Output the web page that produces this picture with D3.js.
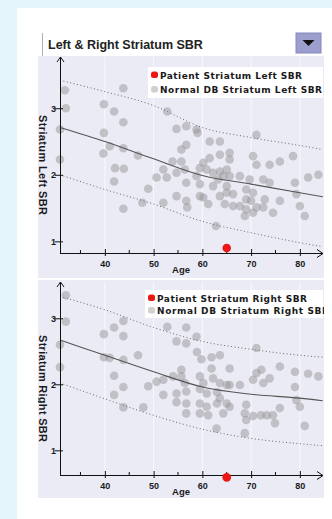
<!DOCTYPE html>
<html>
<head>
<meta charset="utf-8">
<script src="https://cdn.jsdelivr.net/npm/d3@7"></script>
<style>
  body { margin: 0; background: #e4f5fb; }
  svg { display: block; }
  text { font-family: "Liberation Sans", Arial, sans-serif; fill: #1a1a1a; }
</style>
</head>
<body>
<div id="chart"></div>
<script>
// normal database, left striatum
const leftAges = [31.8, 32, 30.8, 30.8, 43.8, 39.8, 41.9, 43.8, 39.8, 41, 43.8, 39.7, 46.8, 42.1, 43.9, 41.9, 43.8, 48.9, 47.7,
  52.8, 54.7, 56.7, 58.8, 59, 55.7, 56.7, 53.9, 55.7, 52, 54.7, 56.4, 50.6, 52.7, 56.7, 58.8, 54.7, 56.7, 56.9, 52,
  59.5, 60.2, 61.5, 63.6, 63.6, 65.6, 65.6, 61.5, 60.9, 62.2, 63.6, 65, 64.3, 65.6, 63.2, 59.5, 62.2, 65, 67.7, 60.2,
  61.2, 59.5, 63.6, 65, 64.6, 62.8, 66.3, 67.7, 69, 70.4, 69, 70, 69, 71.1, 68.7, 70.4, 69.7, 71.1, 71.1, 70.4, 72.5,
  73.8, 75.9, 73.8, 72.8, 72.5, 74.5, 75.9, 78.6, 79, 79.3, 80, 81, 81.7, 83.8, 66.3]
const leftSBR = [3.27, 3.0, 2.68, 2.23, 3.30, 3.06, 2.95, 2.79, 2.63, 2.43, 2.40, 2.32, 2.29, 2.10, 2.09, 1.90, 1.49, 1.79, 1.58,
  2.95, 2.69, 2.73, 2.68, 2.63, 2.38, 2.45, 2.20, 2.20, 2.08, 2.03, 2.08, 1.96, 1.96, 1.88, 1.98, 1.68, 1.61, 1.51, 1.58,
  2.10, 2.18, 2.50, 2.50, 2.30, 2.33, 2.23, 2.25, 2.08, 2.03, 2.05, 2.08, 1.98, 1.98, 1.93, 1.86, 1.83, 1.83, 1.98, 1.66,
  1.56, 1.68, 1.68, 1.73, 1.56, 1.23, 1.71, 1.53, 1.78, 1.73, 1.63, 1.61, 1.48, 1.51, 1.38, 1.43, 1.93, 2.60, 2.15, 2.28, 1.93,
  2.15, 2.20, 1.88, 1.63, 1.51, 1.43, 1.61, 2.28, 1.88, 1.71, 1.53, 1.38, 1.96, 2.00, 1.53]

// normal database, right striatum
const rightAges = [32, 32, 30.8, 30.8, 43.8, 41.9, 39.8, 43.8, 39.8, 41, 46.8, 43.8, 41.9, 43.8, 41.9, 43.8, 47.9, 48.9, 50.6,
  52.8, 56.7, 54.7, 56.7, 58.8, 58.9, 59.8, 61.9, 63.6, 65.6, 61.9, 55.7, 54, 55.7, 52, 56.4, 52, 54.7, 56.7, 56.7, 54.7,
  56.7, 59.5, 60.2, 59.5, 62.2, 63.6, 65, 65.6, 60.9, 63, 63.6, 59.5, 60.9, 63, 65, 59.5, 61.2, 62.9, 64.3, 65.6, 67.7,
  69, 68.7, 70.4, 71.1, 70.4, 72, 69, 68.7, 71.1, 72.1, 73.8, 72.5, 73.2, 74.9, 75.9, 75.9, 74.5, 79, 79, 79.3, 80, 81,
  81.7, 83.8]
const rightSBR = [3.35, 2.95, 2.60, 2.26, 2.96, 2.86, 2.76, 2.73, 2.41, 2.40, 2.44, 2.37, 2.13, 1.96, 1.84, 1.65, 1.65, 1.97, 2.04,
  2.87, 2.86, 2.65, 2.62, 2.72, 2.49, 2.38, 2.41, 2.44, 2.24, 2.24, 2.22, 2.12, 2.12, 2.07, 2.02, 1.84, 1.86, 1.89, 1.71, 1.73,
  1.56, 2.12, 2.02, 1.93, 2.09, 2.02, 1.99, 1.99, 1.86, 1.88, 1.79, 1.71, 1.66, 1.71, 1.71, 1.56, 1.53, 1.33, 1.56, 1.66, 1.99,
  1.69, 1.56, 2.07, 2.17, 1.52, 1.53, 1.46, 1.26, 2.55, 2.22, 2.09, 2.02, 1.53, 1.41, 2.27, 1.64, 1.53, 2.19, 1.96, 1.76, 1.66, 1.37,
  2.16, 2.12]

// regression curves (mean and bounds) by age
const curveAges = [30.8, 40, 50, 60, 70, 80, 84.7]
const leftMean = [2.71, 2.50, 2.24, 1.99, 1.86, 1.73, 1.67]
const leftUpper = [3.42, 3.25, 3.04, 2.71, 2.56, 2.44, 2.38]
const leftLower = [2.00, 1.78, 1.56, 1.30, 1.13, 0.98, 0.92]
const rightMean = [2.67, 2.44, 2.19, 1.96, 1.85, 1.79, 1.75]
const rightUpper = [3.33, 3.13, 2.86, 2.65, 2.53, 2.44, 2.41]
const rightLower = [2.02, 1.78, 1.53, 1.32, 1.18, 1.10, 1.07]

const patientAge = 65
const patientLeft = 0.90
const patientRight = 0.59

const xTicks = [40, 50, 60, 70, 80]
const xMinorTicks = [35, 45, 55, 65, 75]
const yTicks = [1, 2, 3]

const width = 332
const height = 519

const svg = d3.select('#chart').append('svg')
  .attr('width', width)
  .attr('height', height)

// white panel
svg.append('rect').attr('x', 17).attr('y', 8).attr('width', width - 17).attr('height', height - 8).attr('fill', '#ffffff')

// header dropdown
svg.append('line').attr('x1', 42.5).attr('x2', 42.5).attr('y1', 33).attr('y2', 56).attr('stroke', '#b0b0b0')
svg.append('text').attr('x', 48).attr('y', 49)
  .style('font-size', '12.5px').style('font-weight', 'bold').style('fill', '#222')
  .text('Left & Right Striatum SBR')
svg.append('rect').attr('x', 296).attr('y', 33).attr('width', 25).attr('height', 20)
  .attr('fill', '#9c9ece').attr('stroke', '#8587bd')
svg.append('path').attr('d', 'M302.5,40 L314.5,40 L308.5,46 Z').attr('fill', '#111')

const x = d3.scaleLinear().domain([30.8, 84.75]).range([60, 323])

const charts = [
  {top: 56, bottom: 278, yDomain: [0.825, 3.77], yRange: [253, 57], ages: leftAges, vals: leftSBR,
    mean: leftMean, upper: leftUpper, lower: leftLower, patient: patientLeft,
    yLabel: 'Striatum Left SBR', yLabelLen: 100,
    legend: ['Patient Striatum Left SBR', 'Normal DB Striatum Left SBR'], legendLen: [142, 162],
    legendBox: [148, 67, 175, 31], legendX: 160, legendY: [78.5, 93]},
  {top: 280, bottom: 498, yDomain: [0.626, 3.55], yRange: [475, 282], ages: rightAges, vals: rightSBR,
    mean: rightMean, upper: rightUpper, lower: rightLower, patient: patientRight,
    yLabel: 'Striatum Right SBR', yLabelLen: 107,
    legend: ['Patient Striatum Right SBR', 'Normal DB Striatum Right SBR'], legendLen: [150, 172],
    legendBox: [145, 290, 178, 28], legendX: 157, legendY: [301.5, 314]},
]

charts.forEach((c, ci) => {
  const g = svg.append('g')
  const clipId = 'clip' + ci
  svg.append('clipPath').attr('id', clipId)
    .append('rect').attr('x', 38).attr('y', c.top).attr('width', 286).attr('height', c.bottom - c.top)
  g.attr('clip-path', `url(#${clipId})`)

  g.append('rect').attr('x', 38).attr('y', c.top).attr('width', 286).attr('height', c.bottom - c.top)
    .attr('fill', '#ebebf6')

  const y = d3.scaleLinear().domain(c.yDomain).range(c.yRange)
  const axisY = c.yRange[0]

  // faint grid lines
  g.selectAll('.grid').data(xTicks).enter().append('line')
    .attr('x1', d => x(d)).attr('x2', d => x(d))
    .attr('y1', c.yRange[1]).attr('y2', axisY)
    .attr('stroke', '#f8f8fd').attr('stroke-width', 1)

  // normal points
  g.append('g').selectAll('circle').data(c.ages).enter().append('circle')
    .attr('cx', d => x(d))
    .attr('cy', (d, i) => y(c.vals[i]))
    .attr('r', 4.3)
    .attr('fill', '#959595')
    .attr('fill-opacity', 0.5)

  const line = d3.line()
    .x((d, i) => x(curveAges[i]))
    .y(d => y(d))
    .curve(d3.curveMonotoneX)

  g.append('path').attr('d', line(c.upper)).attr('fill', 'none')
    .attr('stroke', '#666').attr('stroke-width', 1).attr('stroke-dasharray', '1,2.5')
  g.append('path').attr('d', line(c.lower)).attr('fill', 'none')
    .attr('stroke', '#666').attr('stroke-width', 1).attr('stroke-dasharray', '1,2.5')
  g.append('path').attr('d', line(c.mean)).attr('fill', 'none')
    .attr('stroke', '#555').attr('stroke-width', 1.1)

  // x axis
  const xAxis = g.append('g').attr('transform', `translate(0,${axisY})`)
    .call(d3.axisBottom(x).tickValues(xTicks).tickSizeOuter(0))
  xAxis.select('.domain').remove()
  xAxis.selectAll('.tick line').attr('y1', -4).attr('y2', 3).attr('stroke', '#111')
  xAxis.selectAll('.tick text').attr('y', 8)
    .style('font-size', '9px').style('font-weight', 'bold').style('font-family', '"Liberation Sans", Arial, sans-serif')
    .attr('fill', '#1a1a1a')
  g.selectAll('.minor').data(xMinorTicks).enter().append('line')
    .attr('x1', d => x(d)).attr('x2', d => x(d))
    .attr('y1', axisY - 3).attr('y2', axisY)
    .attr('stroke', '#111')

  g.append('line').attr('x1', 60).attr('x2', 322).attr('y1', axisY + 0.5).attr('y2', axisY + 0.5).attr('stroke', '#111')
  g.append('path').attr('d', `M317,${axisY - 3.5} L323,${axisY + 0.5} L317,${axisY + 4.5}`)
    .attr('fill', 'none').attr('stroke', '#111')

  // y axis
  const yAxis = g.append('g').attr('transform', 'translate(60,0)')
    .call(d3.axisLeft(y).tickValues(yTicks).tickSizeOuter(0).tickFormat(d3.format('d')))
  yAxis.select('.domain').remove()
  yAxis.selectAll('.tick line').attr('x1', 3).attr('x2', -5).attr('stroke', '#111')
  yAxis.selectAll('.tick text').attr('x', -4)
    .style('font-size', '9px').style('font-weight', 'bold').style('font-family', '"Liberation Sans", Arial, sans-serif')
    .attr('fill', '#1a1a1a')
  g.append('line').attr('x1', 60.5).attr('x2', 60.5).attr('y1', c.yRange[1]).attr('y2', axisY + 1).attr('stroke', '#111')
  g.append('path').attr('d', `M57,${c.yRange[1] + 5} L60.5,${c.yRange[1]} L64,${c.yRange[1] + 5}`)
    .attr('fill', 'none').attr('stroke', '#111')

  // patient
  g.append('circle').attr('cx', x(patientAge)).attr('cy', y(c.patient)).attr('r', 4.3).attr('fill', '#ee1515')

  // axis titles
  const midY = (c.yRange[0] + c.yRange[1]) / 2 + 10
  g.append('text')
    .attr('transform', `translate(38.5,${midY}) rotate(90)`)
    .attr('text-anchor', 'middle')
    .attr('textLength', c.yLabelLen).attr('lengthAdjust', 'spacing')
    .style('font-size', '11px').style('font-weight', 'bold')
    .text(c.yLabel)
  g.append('text').attr('x', 181).attr('y', axisY + 20)
    .attr('text-anchor', 'middle')
    .style('font-size', '9.5px').style('font-weight', 'bold')
    .text('Age')

  // legend
  const [lx, ly, lw, lh] = c.legendBox
  g.append('rect').attr('x', lx).attr('y', ly).attr('width', lw).attr('height', lh).attr('fill', '#fff')
  const colors = ['#ee1515', '#d0d0d0']
  c.legend.forEach((t, i) => {
    g.append('rect').attr('x', c.legendX - 9).attr('y', c.legendY[i] - 7).attr('width', 7).attr('height', 6.5)
      .attr('rx', 2.5).attr('fill', colors[i])
    g.append('text').attr('x', c.legendX).attr('y', c.legendY[i])
      .attr('textLength', c.legendLen[i]).attr('lengthAdjust', 'spacing')
      .style('font-size', '9px').style('font-weight', 'bold').style('font-family', '"DejaVu Sans", Verdana, sans-serif')
      .text(t)
  })
})
</script>
</body>
</html>
